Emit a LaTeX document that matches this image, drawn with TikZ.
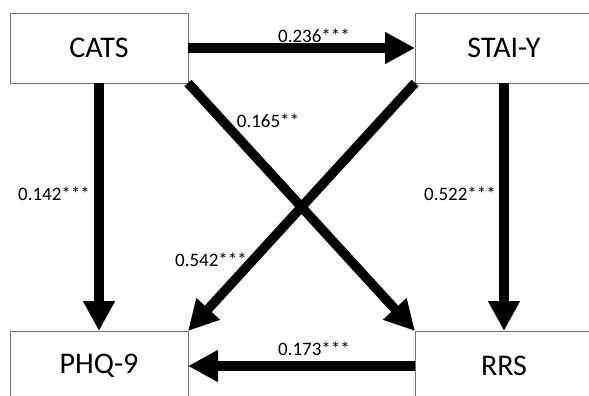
\documentclass[tikz,border=0pt]{standalone}
\usepackage{fontspec}
\setmainfont{Carlito}
\usetikzlibrary{arrows.meta}
\begin{document}
\begin{tikzpicture}[x=1pt,y=-1pt,
  varbox/.style={draw=black!55,line width=0.9pt,fill=white,minimum width=178pt,minimum height=70pt,inner sep=0pt,outer sep=0pt,font=\fontsize{30}{34}\selectfont},
  arr/.style={line width=9.5pt,-{Triangle[length=30pt,width=30pt]}},
  lab/.style={font=\fontsize{19}{21}\selectfont,inner sep=0pt}]
\useasboundingbox (0,0) rectangle (589,396);
\node[varbox] (cats) at (99,48) {CATS};
\node[varbox] (stai) at (504,48) {STAI-Y};
\node[varbox] (phq) at (99,366) {PHQ-9};
\node[varbox] (rrs) at (504,366) {RRS};
\draw[arr] (cats.east) -- (stai.west);
\draw[arr] (cats.south) -- (phq.north);
\draw[arr] (stai.south) -- (rrs.north);
\draw[arr] (cats.south east) -- (rrs.north west);
\draw[arr] (stai.south west) -- (phq.north east);
\draw[arr] (rrs.west) -- (phq.east);
\node[lab] (l1) at (314,36) {0.236***};
\node[lab] (l2) at (268,121) {0.165**};
\node[lab] (l3) at (54,194) {0.142***};
\node[lab] (l4) at (460,194) {0.522***};
\node[lab] (l5) at (211,260) {0.542***};
\node[lab] (l6) at (314,349) {0.173***};
\end{tikzpicture}
\end{document}
